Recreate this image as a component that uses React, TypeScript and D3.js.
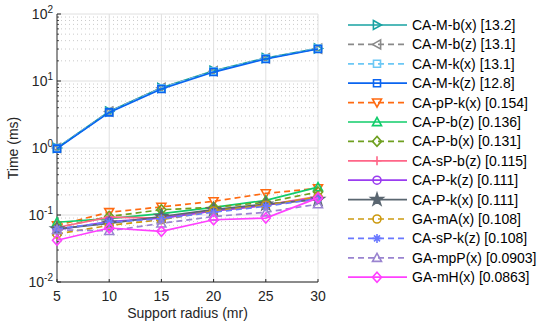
import React from 'react';
import * as d3 from 'd3';

const radii = [5, 10, 15, 20, 25, 30];

const names = [
  'CA-M-b(x) [13.2]', 'CA-M-b(z) [13.1]', 'CA-M-k(x) [13.1]', 'CA-M-k(z) [12.8]',
  'CA-pP-k(x) [0.154]', 'CA-P-b(z) [0.136]', 'CA-P-b(x) [0.131]', 'CA-sP-b(z) [0.115]',
  'CA-P-k(z) [0.111]', 'CA-P-k(x) [0.111]', 'GA-mA(x) [0.108]', 'CA-sP-k(z) [0.108]',
  'GA-mpP(x) [0.0903]', 'GA-mH(x) [0.0863]',
];

const caMbx = [1.0, 3.5, 7.9, 14.2, 22, 30.6];
const caMbz = [1.0, 3.5, 7.9, 14.0, 21.8, 30.4];
const caMkx = [1.0, 3.45, 7.8, 14.0, 21.8, 30.6];
const caMkz = [0.98, 3.4, 7.6, 13.6, 21.3, 30.0];
const caPPkx = [0.07, 0.11, 0.132, 0.16, 0.21, 0.25];
const caPbz = [0.078, 0.088, 0.105, 0.13, 0.165, 0.26];
const caPbx = [0.065, 0.095, 0.12, 0.13, 0.155, 0.22];
const caSPbz = [0.065, 0.093, 0.09, 0.115, 0.14, 0.19];
const caPkz = [0.06, 0.08, 0.09, 0.115, 0.14, 0.18];
const caPkx = [0.062, 0.075, 0.095, 0.12, 0.145, 0.17];
const gaMAx = [0.052, 0.07, 0.085, 0.115, 0.14, 0.185];
const caSPkz = [0.062, 0.078, 0.088, 0.11, 0.135, 0.175];
const gaMpPx = [0.06, 0.058, 0.075, 0.095, 0.11, 0.145];
const gaMHx = [0.042, 0.064, 0.057, 0.085, 0.09, 0.18];

const values = [caMbx, caMbz, caMkx, caMkz, caPPkx, caPbz, caPbx, caSPbz, caPkz, caPkx, gaMAx, caSPkz, gaMpPx, gaMHx];
const colors = ['#17a2a2', '#8a8a8a', '#6cc8f5', '#0a64f0', '#ff6a10', '#10cc6a', '#6fa020', '#ff6688',
  '#9a3cf0', '#5a6670', '#cc9a10', '#6a78ff', '#9a84d0', '#ff40ff'];
const markers = ['>', '<', 's', 's', 'v', '^', 'd', '+', 'o', 'p', 'o', '*', '^', 'd'];
const dashed = [false, true, true, false, true, false, true, false, false, false, true, true, true, false];

const xTicks = [5, 10, 15, 20, 25, 30];
const yExps = [-2, -1, 0, 1, 2];

const FONT = 'Liberation Sans, Arial, sans-serif';

function markerPath(m: string): string {
  const r = 4.5;
  switch (m) {
    case '>': return `M${-r * 0.8},${-r}L${r},0L${-r * 0.8},${r}Z`;
    case '<': return `M${r * 0.8},${-r}L${-r},0L${r * 0.8},${r}Z`;
    case 'v': return `M${-r},${-r * 0.8}L${r},${-r * 0.8}L0,${r}Z`;
    case '^': return `M${-r},${r * 0.8}L${r},${r * 0.8}L0,${-r}Z`;
    case 's': return `M-3.5,-3.5H3.5V3.5H-3.5Z`;
    case 'd': return `M0,${-r - 0.5}L${r},0L0,${r + 0.5}L${-r},0Z`;
    case '+': return `M${-r},0H${r}M0,${-r}V${r}`;
    case '*': return `M${-r},0H${r}M0,${-r}V${r}M-3,-3L3,3M-3,3L3,-3`;
    case 'o': return d3.symbol(d3.symbolCircle, 50)() as string;
    case 'p': return d3.symbol(d3.symbolStar, 45)() as string;
    default: return '';
  }
}

const Marker = ({ m, color, x, y }: { m: string; color: string; x: number; y: number }) => (
  <path d={markerPath(m)} transform={`translate(${x},${y})`}
    fill={m === 'p' ? color : 'none'} stroke={color} strokeWidth={1.6} />
);

export default function App() {
  const width = 548, height = 322;
  const x = d3.scaleLinear().domain([5, 30]).range([57, 318]);
  const y = d3.scaleLog().domain([1e-2, 1e2]).range([282, 14]);
  const line = d3.line<number>().x((_, i) => x(radii[i])).y(d => y(d));

  const minor: number[] = [];
  yExps.slice(0, -1).forEach(e => {
    for (let k = 2; k <= 9; k++) minor.push(k * Math.pow(10, e));
  });

  return (
    <svg width={width} height={height} style={{ position: 'absolute', left: 0, top: 0, background: '#fff' }}
      fontFamily={FONT}>
      {/* grid */}
      {minor.map(v => (
        <line key={'m' + v} x1={57} x2={318} y1={y(v)} y2={y(v)} stroke="#bdbdbd" strokeWidth={0.8} strokeDasharray="1,3" />
      ))}
      {yExps.map(e => (
        <line key={'g' + e} x1={57} x2={318} y1={y(Math.pow(10, e))} y2={y(Math.pow(10, e))} stroke="#e0e0e0" strokeWidth={1} />
      ))}
      {xTicks.map(t => (
        <line key={'gx' + t} x1={x(t)} x2={x(t)} y1={14} y2={282} stroke="#e0e0e0" strokeWidth={1} />
      ))}

      {/* axes */}
      <line x1={57} x2={318} y1={282} y2={282} stroke="#262626" strokeWidth={1} />
      <line x1={57} x2={57} y1={14} y2={282} stroke="#555" strokeWidth={1.2} />
      {xTicks.map(t => (
        <g key={'xt' + t}>
          <line x1={x(t)} x2={x(t)} y1={282} y2={279} stroke="#262626" />
          <text x={x(t)} y={301} fontSize={14} textAnchor="middle" fill="#262626">{t}</text>
        </g>
      ))}
      {minor.map(v => (
        <line key={'mt' + v} x1={57} x2={59} y1={y(v)} y2={y(v)} stroke="#262626" strokeWidth={0.8} />
      ))}
      {yExps.map(e => (
        <g key={'yt' + e}>
          <line x1={57} x2={61} y1={y(Math.pow(10, e))} y2={y(Math.pow(10, e))} stroke="#262626" />
          <text x={53} y={y(Math.pow(10, e)) + 5} fontSize={14} textAnchor="end" fill="#262626">
            10<tspan fontSize={10} dy={-6}>{e}</tspan>
          </text>
        </g>
      ))}
      <text x={187.5} y={318} fontSize={14} textAnchor="middle" fill="#262626">Support radius (mr)</text>
      <text transform="translate(18,148) rotate(-90)" fontSize={14} textAnchor="middle" fill="#262626">Time (ms)</text>

      {/* series */}
      {values.map((vals, i) => (
        <g key={names[i]}>
          <path d={line(vals) as string} fill="none" stroke={colors[i]} strokeWidth={1.7}
            strokeDasharray={dashed[i] ? '6,4' : undefined} />
          {vals.map((v, j) => (
            <Marker key={j} m={markers[i]} color={colors[i]} x={x(radii[j])} y={y(v)} />
          ))}
        </g>
      ))}

      {/* legend */}
      {names.map((n, i) => {
        const ly = 25 + i * 19.4;
        return (
          <g key={'l' + n}>
            <line x1={348} x2={407} y1={ly} y2={ly} stroke={colors[i]} strokeWidth={1.7}
              strokeDasharray={dashed[i] ? '6,4' : undefined} />
            <Marker m={markers[i]} color={colors[i]} x={377} y={ly} />
            <text x={412} y={ly + 5} fontSize={14} fill="#000">{n}</text>
          </g>
        );
      })}
    </svg>
  );
}
